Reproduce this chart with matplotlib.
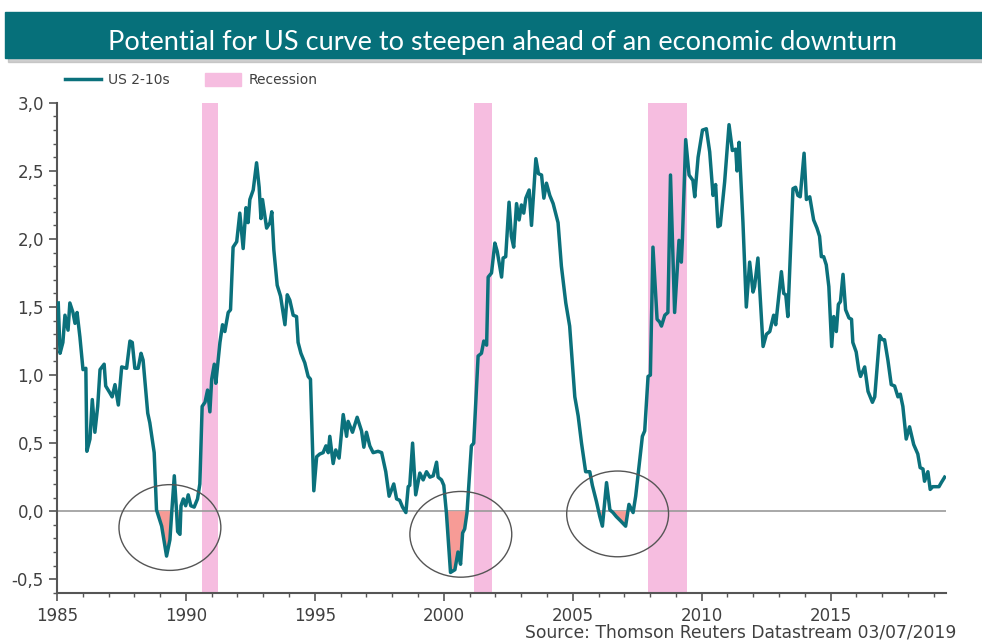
import numpy as np
import matplotlib
matplotlib.use("Agg")
import matplotlib.pyplot as plt
from matplotlib.patches import Ellipse, Rectangle, Patch
from matplotlib.lines import Line2D
from matplotlib.ticker import MultipleLocator, FuncFormatter

plt.rcParams["font.family"] = ["DejaVu Sans"]

# US 2-10s spread (decimal year, percentage points)
years = [1985.05, 1985.12, 1985.23, 1985.31, 1985.43, 1985.50, 1985.62, 1985.70, 1985.78, 1985.89,
         1986.01, 1986.12, 1986.16, 1986.28, 1986.37, 1986.47, 1986.58, 1986.67, 1986.83, 1986.89,
         1987.05, 1987.14, 1987.25, 1987.38, 1987.51, 1987.70, 1987.83, 1987.92, 1988.02, 1988.15,
         1988.26, 1988.34, 1988.52, 1988.60, 1988.77, 1988.86, 1989.06, 1989.25, 1989.38, 1989.45,
         1989.55, 1989.64, 1989.68, 1989.77, 1989.81, 1989.90, 1989.99, 1990.09, 1990.19, 1990.32,
         1990.45, 1990.54, 1990.63, 1990.74, 1990.84, 1990.93, 1991.00, 1991.10, 1991.16, 1991.32,
         1991.42, 1991.51, 1991.64, 1991.73, 1991.83, 1991.97, 1992.09, 1992.22, 1992.33, 1992.41,
         1992.48, 1992.61, 1992.74, 1992.84, 1992.91, 1992.97, 1993.13, 1993.26, 1993.33, 1993.41,
         1993.54, 1993.67, 1993.84, 1993.93, 1994.03, 1994.16, 1994.29, 1994.35, 1994.46, 1994.61,
         1994.74, 1994.83, 1994.96, 1995.07, 1995.19, 1995.32, 1995.43, 1995.52, 1995.58, 1995.71,
         1995.81, 1995.94, 1996.10, 1996.23, 1996.29, 1996.46, 1996.64, 1996.81, 1996.90, 1997.00,
         1997.13, 1997.26, 1997.45, 1997.59, 1997.75, 1997.88, 1998.06, 1998.17, 1998.29, 1998.40,
         1998.53, 1998.62, 1998.68, 1998.79, 1998.91, 1999.07, 1999.20, 1999.33, 1999.46, 1999.59,
         1999.72, 1999.78, 1999.91, 2000.00, 2000.10, 2000.26, 2000.43, 2000.55, 2000.65, 2000.73,
         2000.81, 2000.90, 2001.07, 2001.16, 2001.33, 2001.46, 2001.55, 2001.66, 2001.72, 2001.85,
         2001.98, 2002.07, 2002.24, 2002.30, 2002.40, 2002.53, 2002.62, 2002.71, 2002.82, 2002.92,
         2003.01, 2003.10, 2003.18, 2003.31, 2003.40, 2003.57, 2003.67, 2003.79, 2003.88, 2003.98,
         2004.11, 2004.24, 2004.43, 2004.56, 2004.73, 2004.88, 2005.08, 2005.21, 2005.34, 2005.50,
         2005.66, 2005.76, 2005.92, 2006.05, 2006.15, 2006.31, 2006.44, 2006.56, 2006.69, 2006.85,
         2007.05, 2007.18, 2007.34, 2007.44, 2007.70, 2007.79, 2007.92, 2008.01, 2008.11, 2008.27,
         2008.37, 2008.44, 2008.57, 2008.69, 2008.79, 2008.95, 2009.12, 2009.21, 2009.25, 2009.38,
         2009.51, 2009.66, 2009.73, 2009.86, 2010.03, 2010.18, 2010.31, 2010.44, 2010.54, 2010.63,
         2010.72, 2010.89, 2011.06, 2011.19, 2011.32, 2011.37, 2011.45, 2011.60, 2011.73, 2011.86,
         2011.99, 2012.05, 2012.18, 2012.38, 2012.51, 2012.64, 2012.79, 2012.87, 2013.09, 2013.18,
         2013.26, 2013.34, 2013.54, 2013.64, 2013.73, 2013.82, 2013.97, 2014.06, 2014.19, 2014.34,
         2014.47, 2014.57, 2014.64, 2014.73, 2014.83, 2014.93, 2015.04, 2015.12, 2015.22, 2015.30,
         2015.38, 2015.48, 2015.58, 2015.71, 2015.81, 2015.86, 2015.99, 2016.09, 2016.16, 2016.32,
         2016.45, 2016.62, 2016.71, 2016.90, 2017.01, 2017.09, 2017.22, 2017.35, 2017.48, 2017.61,
         2017.70, 2017.80, 2017.93, 2018.06, 2018.22, 2018.38, 2018.47, 2018.58, 2018.64, 2018.77,
         2018.86, 2018.96, 2019.09, 2019.20, 2019.29, 2019.42]
spread = [1.53, 1.16, 1.24, 1.44, 1.33, 1.53, 1.46, 1.38, 1.46, 1.28,
          1.04, 1.05, 0.44, 0.53, 0.82, 0.58, 0.77, 1.04, 1.08, 0.92,
          0.87, 0.84, 0.93, 0.78, 1.06, 1.05, 1.25, 1.24, 1.05, 1.05,
          1.16, 1.11, 0.72, 0.65, 0.43, 0.01, -0.11, -0.33, -0.21, -0.01,
          0.26, -0.01, -0.15, -0.17, 0.04, 0.09, 0.04, 0.12, 0.04, 0.03,
          0.09, 0.20, 0.77, 0.80, 0.89, 0.73, 0.97, 1.08, 0.94, 1.24,
          1.37, 1.32, 1.46, 1.48, 1.94, 1.98, 2.19, 1.93, 2.23, 2.12,
          2.29, 2.36, 2.56, 2.38, 2.15, 2.29, 2.08, 2.12, 2.20, 1.92,
          1.66, 1.58, 1.37, 1.59, 1.55, 1.44, 1.43, 1.24, 1.16, 1.09,
          0.99, 0.97, 0.15, 0.40, 0.42, 0.43, 0.48, 0.43, 0.55, 0.35,
          0.45, 0.39, 0.71, 0.55, 0.66, 0.58, 0.69, 0.59, 0.47, 0.58,
          0.48, 0.43, 0.44, 0.43, 0.29, 0.11, 0.20, 0.09, 0.08, 0.03,
          -0.01, 0.18, 0.19, 0.50, 0.12, 0.28, 0.23, 0.29, 0.25, 0.26,
          0.36, 0.25, 0.23, 0.19, -0.01, -0.45, -0.43, -0.30, -0.39, -0.16,
          -0.13, -0.01, 0.48, 0.50, 1.14, 1.16, 1.25, 1.22, 1.72, 1.75,
          1.97, 1.91, 1.72, 1.86, 1.87, 2.27, 2.02, 1.94, 2.26, 2.14,
          2.25, 2.19, 2.30, 2.36, 2.10, 2.59, 2.48, 2.47, 2.30, 2.41,
          2.32, 2.26, 2.12, 1.80, 1.53, 1.36, 0.84, 0.70, 0.50, 0.29,
          0.29, 0.19, 0.07, -0.04, -0.11, 0.21, 0.01, -0.01, -0.04, -0.07,
          -0.11, 0.05, -0.01, 0.11, 0.55, 0.59, 0.99, 1.00, 1.94, 1.41,
          1.39, 1.36, 1.44, 1.46, 2.47, 1.46, 1.99, 1.83, 1.99, 2.73,
          2.47, 2.43, 2.31, 2.60, 2.80, 2.81, 2.64, 2.32, 2.40, 2.09,
          2.10, 2.42, 2.84, 2.65, 2.66, 2.50, 2.71, 2.12, 1.50, 1.83,
          1.61, 1.65, 1.86, 1.21, 1.30, 1.32, 1.44, 1.37, 1.76, 1.60,
          1.59, 1.43, 2.37, 2.38, 2.32, 2.31, 2.63, 2.29, 2.31, 2.14,
          2.08, 2.02, 1.87, 1.87, 1.81, 1.65, 1.21, 1.43, 1.32, 1.52,
          1.54, 1.74, 1.48, 1.42, 1.41, 1.24, 1.17, 1.04, 0.99, 1.06,
          0.88, 0.80, 0.84, 1.29, 1.26, 1.26, 1.11, 0.93, 0.92, 0.84,
          0.86, 0.77, 0.53, 0.62, 0.49, 0.42, 0.32, 0.31, 0.22, 0.29,
          0.16, 0.18, 0.18, 0.18, 0.21, 0.25]

# NBER recessions (start, end)
rec_start = [1990.62, 2001.16, 2007.92]
rec_end = [1991.25, 2001.85, 2009.42]

# circled inversion episodes (centre year, centre value)
circ_x = [1989.38, 2000.66, 2006.74]
circ_y = [-0.12, -0.17, -0.02]

teal = "#0b717c"
pink = "#f6bde0"

fig = plt.figure(figsize=(9.82, 6.43), dpi=100)
ax = fig.add_axes([0.058, 0.078, 0.905, 0.762])

for s, e in zip(rec_start, rec_end):
    ax.axvspan(s, e, color=pink, lw=0, zorder=1)

ax.axhline(0, color="#999999", lw=1.2, zorder=2)
ax.fill_between(years, spread, 0, where=np.array(spread) < 0, interpolate=True,
                color="#f79b96", lw=0, zorder=3)
ax.plot(years, spread, color=teal, lw=2.5, zorder=4, solid_joinstyle="round")

for cx, cy in zip(circ_x, circ_y):
    ax.add_patch(Ellipse((cx, cy), 3.95, 0.63, fill=False, ec="#555555", lw=1.0, zorder=5))

ax.set_xlim(1985, 2019.46)
ax.set_ylim(-0.6, 3.0)
ax.xaxis.set_major_locator(MultipleLocator(5))
ax.xaxis.set_minor_locator(MultipleLocator(1))
ax.yaxis.set_major_locator(MultipleLocator(0.5))
ax.yaxis.set_minor_locator(MultipleLocator(0.1))
ax.yaxis.set_major_formatter(FuncFormatter(lambda v, p: f"{v:.1f}".replace(".", ",")))
for side in ["top", "right"]:
    ax.spines[side].set_visible(False)
for side in ["left", "bottom"]:
    ax.spines[side].set_color("#555555")
    ax.spines[side].set_linewidth(1.5)
ax.tick_params(which="major", direction="out", length=6, width=1.2, color="#555555",
               labelsize=12, labelcolor="#404040")
ax.tick_params(which="minor", direction="out", length=3, width=1, color="#555555")
ax.tick_params(axis="x", pad=4)

# title banner with a soft shadow
fig.patches.append(Rectangle((0.008, 0.903), 0.995, 0.0715, transform=fig.transFigure,
                             color="#b0b0b0", alpha=0.6, zorder=0))
fig.patches.append(Rectangle((0.005, 0.9098), 0.995, 0.0715, transform=fig.transFigure,
                             color="#06707a", zorder=1))
fig.text(0.512, 0.934, "Potential for US curve to steepen ahead of an economic downturn",
         ha="center", va="center", color="white", fontsize=19.5, family="Lato")

handles = [Line2D([], [], color=teal, lw=2.5), Patch(color=pink)]
fig.legend(handles, ["US 2-10s", "Recession"], loc="center left",
           bbox_to_anchor=(0.053, 0.875), ncol=2, frameon=False, fontsize=10,
           handlelength=2.6, handleheight=1.0, columnspacing=2.6, handletextpad=0.5,
           labelcolor="#404040")

fig.text(0.974, 0.0156, "Source: Thomson Reuters Datastream 03/07/2019",
         ha="right", va="center", fontsize=12.3, color="#404040")

fig.savefig("out.png", dpi=100)
